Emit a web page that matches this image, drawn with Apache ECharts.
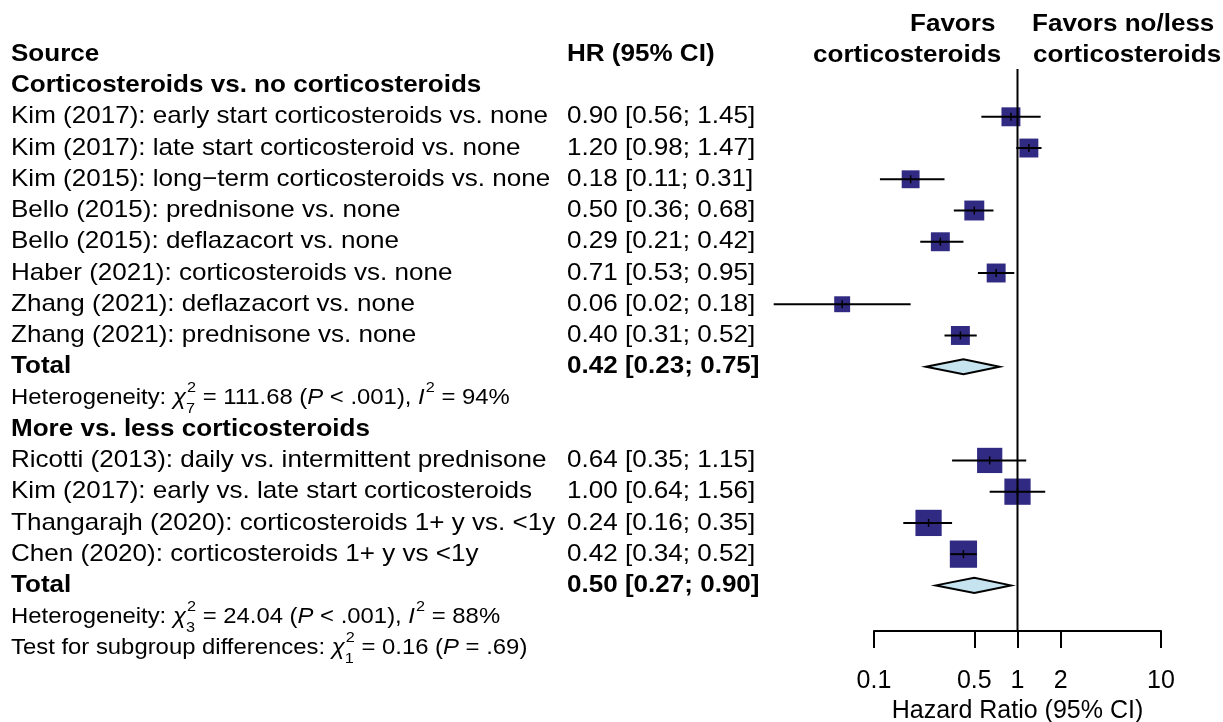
<!DOCTYPE html>
<html>
<head>
<meta charset="utf-8">
<title>Forest plot</title>
<script src="https://cdn.jsdelivr.net/npm/echarts@6/dist/echarts.min.js"></script>
<style>
  html, body { margin: 0; padding: 0; background: #fff; }
  #chart { width: 1223px; height: 722px; }
</style>
</head>
<body>
<div id="chart"></div>
<script>
// data
var studyLabels = [
    'Kim (2017): early start corticosteroids vs. none',
    'Kim (2017): late start corticosteroid vs. none',
    'Kim (2015): long\u2212term corticosteroids vs. none',
    'Bello (2015): prednisone vs. none',
    'Bello (2015): deflazacort vs. none',
    'Haber (2021): corticosteroids vs. none',
    'Zhang (2021): deflazacort vs. none',
    'Zhang (2021): prednisone vs. none',
    'Ricotti (2013): daily vs. intermittent prednisone',
    'Kim (2017): early vs. late start corticosteroids',
    'Thangarajh (2020): corticosteroids 1+ y vs. <1y',
    'Chen (2020): corticosteroids 1+ y vs <1y'
];
var studyGroup = [0, 0, 0, 0, 0, 0, 0, 0, 1, 1, 1, 1];
var hr    = [0.90, 1.20, 0.18, 0.50, 0.29, 0.71, 0.06, 0.40, 0.64, 1.00, 0.24, 0.42];
var lower = [0.56, 0.98, 0.11, 0.36, 0.21, 0.53, 0.02, 0.31, 0.35, 0.64, 0.16, 0.34];
var upper = [1.45, 1.47, 0.31, 0.68, 0.42, 0.95, 0.18, 0.52, 1.15, 1.56, 0.35, 0.52];
var weight = [13.0, 13.0, 11.6, 14.4, 13.0, 13.0, 9.2, 13.0, 23.1, 25.0, 25.0, 26.9];

var groupTitles = ['Corticosteroids vs. no corticosteroids', 'More vs. less corticosteroids'];
var pooledHR    = [0.42, 0.50];
var pooledLower = [0.23, 0.27];
var pooledUpper = [0.75, 0.90];
var hetChi2 = ['111.68', '24.04'];
var hetDf   = ['7', '3'];
var hetP    = ['< .001', '< .001'];
var hetI2   = ['94%', '88%'];
var testChi2 = '0.16', testDf = '1', testP = '= .69';

var xTicks = [0.1, 0.5, 1, 2, 10];
var xTitle = 'Hazard Ratio (95% CI)';
var leftLabel = ['Favors', 'corticosteroids'];
var rightLabel = ['Favors no/less', 'corticosteroids'];

// layout / style
var FF = '"Liberation Sans", Arial, Helvetica, sans-serif';
var SX = 1.085;          // text in the figure is a bit wider than tall
var COL_SRC = 11, COL_HR = 567;
var Y_MIN = -0.53, Y_MAX = 17.46;
var SQ_COLOR = '#312a82', DIA_COLOR = '#c6e4ef';
var SQ_K = 5.25;

// rows
var studyRow = [], totalRow = [], hetRow = [], titleRow = [];
var r = 0;
for (var g = 0; g < groupTitles.length; g++) {
    titleRow[g] = r++;
    for (var i = 0; i < studyLabels.length; i++) {
        if (studyGroup[i] === g) studyRow[i] = r++;
    }
    totalRow[g] = r++;
    hetRow[g] = r++;
}
var testRow = r;

function fmt(v) { return v.toFixed(2); }
function ciText(e, l, u) { return fmt(e) + ' [' + fmt(l) + '; ' + fmt(u) + ']'; }

var table = [];
table.push({row: -1, col: 'src', text: 'Source', bold: true});
table.push({row: -1, col: 'hr', text: 'HR (95% CI)', bold: true});
for (var g = 0; g < groupTitles.length; g++) {
    table.push({row: titleRow[g], col: 'src', text: groupTitles[g], bold: true});
    for (var i = 0; i < studyLabels.length; i++) {
        if (studyGroup[i] !== g) continue;
        table.push({row: studyRow[i], col: 'src', text: studyLabels[i]});
        table.push({row: studyRow[i], col: 'hr', text: ciText(hr[i], lower[i], upper[i])});
    }
    table.push({row: totalRow[g], col: 'src', text: 'Total', bold: true});
    table.push({row: totalRow[g], col: 'hr', text: ciText(pooledHR[g], pooledLower[g], pooledUpper[g]), bold: true});
    table.push({row: hetRow[g], pieces: [
        {t: 'Heterogeneity: '}, {t: '\u03c7', it: true}, {sup: '2', sub: hetDf[g]},
        {t: ' = ' + hetChi2[g] + ' ('}, {t: 'P', it: true}, {t: ' ' + hetP[g] + '), '},
        {t: 'I', it: true}, {sup: '2'}, {t: ' = ' + hetI2[g]}
    ]});
}
table.push({row: testRow, pieces: [
    {t: 'Test for subgroup differences: '}, {t: '\u03c7', it: true}, {sup: '2', sub: testDf},
    {t: ' = ' + testChi2 + ' ('}, {t: 'P', it: true}, {t: ' ' + testP + ')'}
]});

var ctx = document.createElement('canvas').getContext('2d');
function measure(txt, font) { ctx.font = font; return ctx.measureText(txt).width; }

function mathLine(pieces, x0, y) {
    var kids = [], cur = 0;
    pieces.forEach(function (p) {
        if (p.sup || p.sub) {
            var f = '15px ' + FF, w = 0;
            if (p.sup) {
                kids.push({type: 'text', x: cur + 1, y: -10, style: {text: p.sup, font: f, fill: '#000', align: 'left', verticalAlign: 'middle'}});
                w = Math.max(w, measure(p.sup, f));
            }
            if (p.sub) {
                kids.push({type: 'text', x: cur, y: 11, style: {text: p.sub, font: f, fill: '#000', align: 'left', verticalAlign: 'middle'}});
                w = Math.max(w, measure(p.sub, f));
            }
            cur += w + 1;
        } else {
            var f2 = (p.it ? 'italic ' : '') + '22px ' + FF;
            kids.push({type: 'text', x: cur, y: 0, style: {text: p.t, font: f2, fill: '#000', align: 'left', verticalAlign: 'middle'}});
            cur += measure(p.t, f2);
        }
    });
    return {type: 'group', x: x0, y: y, scaleX: SX, children: kids};
}

var chart = echarts.init(document.getElementById('chart'));

var option = {
    animation: false,
    backgroundColor: '#fff',
    grid: {left: 874, right: 62, top: 69, bottom: 91, containLabel: false, outerBoundsMode: 'none'},
    xAxis: {
        type: 'log', logBase: 10, min: 0.1, max: 10,
        axisLine: {show: true, onZero: false, lineStyle: {color: '#000', width: 2}},
        axisTick: {show: true, length: 17, customValues: xTicks, lineStyle: {color: '#000', width: 2}},
        axisLabel: {customValues: xTicks, color: '#000', fontSize: 25, fontFamily: FF, margin: 38,
            formatter: function (v) { return String(+(+v).toPrecision(3)); }},
        splitLine: {show: false},
        minorTick: {show: false},
        name: xTitle, nameLocation: 'middle', nameGap: 67,
        nameTextStyle: {color: '#000', fontSize: 25, fontFamily: FF}
    },
    yAxis: {type: 'value', inverse: true, min: Y_MIN, max: Y_MAX, show: false},
    graphic: [
        {type: 'text', x: 910, y: 24, scaleX: SX, style: {text: leftLabel[0], font: 'bold 24px ' + FF, fill: '#000', verticalAlign: 'middle'}},
        {type: 'text', x: 813, y: 55, scaleX: SX, style: {text: leftLabel[1], font: 'bold 24px ' + FF, fill: '#000', verticalAlign: 'middle'}},
        {type: 'text', x: 1032, y: 24, scaleX: SX, style: {text: rightLabel[0], font: 'bold 24px ' + FF, fill: '#000', verticalAlign: 'middle'}},
        {type: 'text', x: 1033, y: 55, scaleX: SX, style: {text: rightLabel[1], font: 'bold 24px ' + FF, fill: '#000', verticalAlign: 'middle'}}
    ],
    series: [
        {
            name: 'table', type: 'custom', silent: true,
            data: table.map(function (e) { return [1, e.row]; }),
            encode: {x: 0, y: 1},
            renderItem: function (params, api) {
                var e = table[params.dataIndex];
                var y = api.coord([1, e.row])[1];
                if (e.pieces) return mathLine(e.pieces, COL_SRC, y);
                return {
                    type: 'text', x: e.col === 'hr' ? COL_HR : COL_SRC, y: y, scaleX: SX,
                    style: {text: e.text, font: (e.bold ? 'bold ' : '') + '24px ' + FF, fill: '#000', align: 'left', verticalAlign: 'middle'}
                };
            }
        },
        {
            name: 'studies', type: 'custom', silent: true,
            data: hr.map(function (v, i) { return [v, lower[i], upper[i], studyRow[i], weight[i]]; }),
            encode: {x: [0, 1, 2], y: 3},
            renderItem: function (params, api) {
                var row = api.value(3);
                var c = api.coord([api.value(0), row]);
                var a = api.coord([api.value(1), row]);
                var b = api.coord([api.value(2), row]);
                var s = SQ_K * Math.sqrt(api.value(4));
                return {type: 'group', children: [
                    {type: 'rect', shape: {x: c[0] - s / 2, y: c[1] - s / 2, width: s, height: s}, style: {fill: SQ_COLOR}},
                    {type: 'line', shape: {x1: a[0], y1: a[1], x2: b[0], y2: b[1]}, style: {stroke: '#000', lineWidth: 2}},
                    {type: 'line', shape: {x1: c[0], y1: c[1] - 4, x2: c[0], y2: c[1] + 4}, style: {stroke: '#000', lineWidth: 1.5}}
                ]};
            }
        },
        {
            name: 'pooled', type: 'custom', silent: true,
            data: pooledHR.map(function (v, g) { return [v, pooledLower[g], pooledUpper[g], totalRow[g]]; }),
            encode: {x: [0, 1, 2], y: 3},
            renderItem: function (params, api) {
                var row = api.value(3);
                var c = api.coord([api.value(0), row]);
                var a = api.coord([api.value(1), row]);
                var b = api.coord([api.value(2), row]);
                var h = 7.5;
                return {type: 'polygon', shape: {points: [[a[0], a[1]], [c[0], c[1] - h], [b[0], b[1]], [c[0], c[1] + h]]},
                    style: {fill: DIA_COLOR, stroke: '#000', lineWidth: 2}};
            }
        },
        {
            name: 'ref', type: 'custom', silent: true,
            data: [[1, Y_MIN], [1, Y_MAX]],
            encode: {x: 0, y: 1},
            renderItem: function (params, api) {
                if (params.dataIndex !== 0) return;
                var top = api.coord([1, Y_MIN]);
                var bot = api.coord([1, Y_MAX]);
                return {type: 'line', shape: {x1: top[0], y1: top[1], x2: bot[0], y2: bot[1]}, style: {stroke: '#000', lineWidth: 2}};
            }
        }
    ]
};
chart.setOption(option);
</script>
</body>
</html>
